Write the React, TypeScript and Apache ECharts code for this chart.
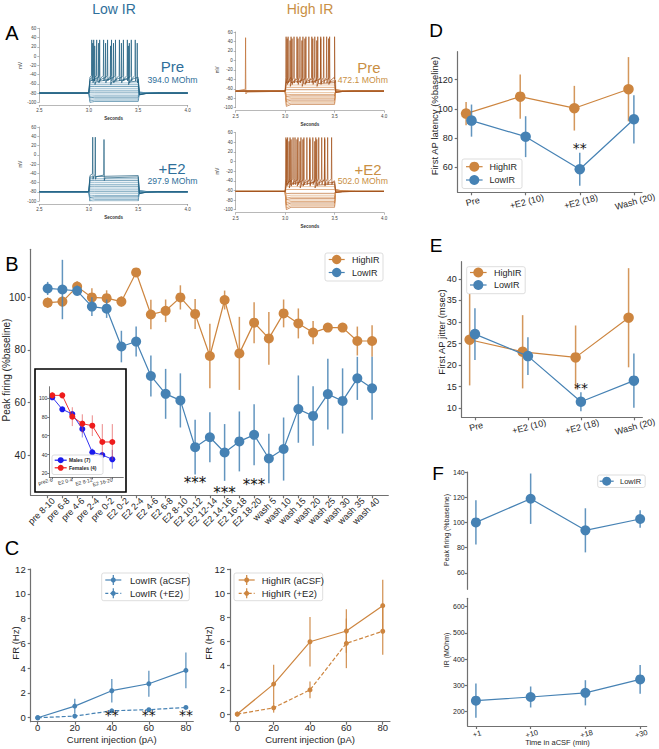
import React, { useEffect, useRef } from 'react';
import * as echarts from 'echarts';

const FONT = "'Liberation Sans', Arial, Helvetica, sans-serif";
const STAR_FONT = "'DejaVu Sans', sans-serif";
const BLUE = '#4682B4';
const ORANGE = '#CD853F';
const LOW_TXT = '#2f6f9a';
const HIGH_TXT = '#c98f44';
const AXIS = '#707070';
const TXT = '#262626';

// ---------------- Panel A (traces) ----------------
const lowPreBase = -80;
const lowPreLevels = [-98, -95, -92, -89, -86, -82, -78, -74, -70, -66, -62, -58, -54, -50, -46];
const lowPreSpikeTrains = [
  [3.03, 3.05, 3.08, 3.11, 3.15, 3.19, 3.23, 3.27, 3.31, 3.35, 3.39, 3.43, 3.47],
  [3.04, 3.1, 3.17, 3.25, 3.33, 3.41, 3.49],
  [3.06, 3.22, 3.4],
];
const lowPrePeaks = [35, 28, 22];

const lowE2Base = -80;
const lowE2Levels = [-100, -97, -94, -91, -88, -84, -80, -76, -72, -68, -64, -60, -56, -52, -48, -45];
const lowE2SpikeTrains = [[3.04, 3.066], [3.154]];
const lowE2Peaks = [38, 33];

const highPreBase = -65;
const highPreLevels = [-93, -90, -87, -84, -81, -78, -75, -72, -68, -62, -57, -52, -47, -43, -40];
const highPreSpikeTrains = [
  [3.01, 3.03, 3.06, 3.09, 3.12, 3.15, 3.18, 3.21, 3.24, 3.27, 3.3, 3.33, 3.36, 3.39, 3.42, 3.45, 3.5],
  [3.02, 3.07, 3.13, 3.2, 3.28, 3.36, 3.44],
  [3.05, 3.17, 3.32],
];
const highPrePeaks = [50, 46, 42];
const highPreSpontTime = [2.6];
const highPreSpontPeak = 48;

const highE2Base = -62;
const highE2Levels = [-95, -92, -89, -86, -83, -80, -77, -74, -70, -66, -58, -52, -47, -43, -40];
const highE2SpikeTrains = [
  [3.008, 3.025, 3.05, 3.08, 3.1, 3.13, 3.16, 3.19, 3.22, 3.25, 3.28, 3.31, 3.34, 3.37, 3.4, 3.43, 3.47],
  [3.015, 3.06, 3.12, 3.18, 3.25, 3.32, 3.4],
  [3.04, 3.15, 3.3],
];
const highE2Peaks = [50, 46, 42];

// ---------------- Panel B ----------------
const bCategories = ['pre 8-10', 'pre 6-8', 'pre 4-6', 'pre 2-4', 'pre 0-2', 'E2 0-2', 'E2 2-4', 'E2 4-6', 'E2 6-8', 'E2 8-10', 'E2 10-12', 'E2 12-14', 'E2 14-16', 'E2 16-18', 'E2 18-20', 'wash 5', 'wash 10', 'wash 15', 'wash 20', 'wash 25', 'wash 30', 'wash 35', 'wash 40'];
const bHighMean = [98.0, 98.4, 104.1, 100.0, 99.7, 98.4, 109.5, 93.5, 94.9, 100.0, 93.7, 77.7, 99.0, 78.7, 90.4, 84.4, 93.9, 90.1, 86.6, 88.5, 88.5, 83.4, 83.4];
const bHighErr = [2, 2, 2, 3.5, 3, 2, 1, 5.6, 4.3, 4.6, 5.7, 12.3, 3.6, 13.9, 7.8, 10, 5.3, 5.7, 4.4, 1, 1, 5.5, 6];
const bLowMean = [103.4, 103.0, 102.5, 96.5, 95.7, 81.3, 83.2, 70.1, 63.3, 60.8, 43.0, 46.8, 41.0, 45.2, 47.7, 38.7, 42.3, 57.5, 54.9, 63.2, 60.6, 69.2, 65.4];
const bLowErr = [2.5, 11.3, 2, 3.6, 3.5, 6, 5.7, 7.8, 9.5, 10.3, 10.4, 9.5, 10.8, 11.4, 11.6, 9.4, 12, 12.8, 11.3, 13.5, 12.4, 8.2, 12];
const bYTicks = [40, 60, 80, 100];
const bStarIdx = [10, 12, 14];
const bStarY = [30.3, 26.7, 29.6];
const bStarText = ['***', '***', '***'];

// inset
const insetLabels = ['pre2-6', '', 'E2 0-4', '', 'E2 8-12', '', 'E2 16-20'];
const insetLabelIdx = [0, 2, 4, 6];
const insetMales = [100.7, 88, 83, 67.1, 42.3, 39.5, 34.9];
const insetMalesErr = [2, 2, 3, 9, 4, 3, 10];
const insetFemales = [102.8, 102.8, 80.2, 72.7, 70.6, 53.3, 53.3];
const insetFemalesErr = [3, 3, 10, 10, 11, 19, 19];
const insetYTicks = [20, 40, 60, 80, 100];

// ---------------- Panel C ----------------
const cCurrents = [0, 20, 40, 60, 80];
const cLowAcsf = [0, 0.94, 2.18, 2.74, 3.82];
const cLowAcsfErr = [0.05, 0.6, 0.95, 1.05, 1.45];
const cLowE2 = [0, 0.13, 0.56, 0.65, 0.83];
const cLowE2Err = [0.03, 0.08, 0.1, 0.08, 0.1];
const cHighAcsf = [0, 2.48, 5.98, 6.87, 8.97];
const cHighAcsfErr = [0.05, 1.6, 2.05, 1.8, 2.15];
const cHighE2 = [0, 0.52, 2.0, 5.85, 6.85];
const cHighE2Err = [0.05, 0.4, 0.7, 2.05, 1.95];
const cYTicks = [0, 2, 4, 6, 8, 10, 12];
const cStarX = [40, 60, 80];
const cStarY = [0.47, 0.47, 0.47];
const cStarText = ['**', '**', '**'];

// ---------------- Panel D ----------------
const dCategories = ['Pre', '+E2 (10)', '+E2 (18)', 'Wash (20)'];
const dHigh = [96.8, 108.4, 100.5, 113.5];
const dHighErr = [8, 15.2, 15.3, 22];
const dLow = [92, 81, 58.7, 92.9];
const dLowErr = [11, 14, 11.3, 16.5];
const dYTicks = [60, 80, 100, 120];
const dStarX = [2];
const dStarY = [74.8];

// ---------------- Panel E ----------------
const eHigh = [25.9, 23.1, 21.8, 31.0];
const eHighErr = [10.6, 8.5, 7.4, 11.5];
const eLow = [27.2, 22.1, 11.5, 16.4];
const eLowErr = [6, 4.4, 2.2, 6.3];
const eYTicks = [10, 15, 20, 25, 30, 35, 40];
const eStarX = [2];
const eStarY = [15.4];

// ---------------- Panel F ----------------
const fCategories = ['+1', '+10', '+18', '+30'];
const fPeak = [100, 118.8, 93.7, 102.7];
const fPeakErr = [17.5, 20, 17.5, 7];
const fIR = [242, 256, 272, 323];
const fIRErr = [65, 40, 48, 55];
const fPeakTicks = [60, 80, 100, 120, 140];
const fIRTicks = [200, 300, 400, 500, 600];

// ---------------- helpers ----------------
const idx = (n: number) => Array.from({ length: n }, (_, i) => i);

function sweepPoints(base: number, level: number, spikes: number[], peak: number): number[][] {
  const pts: number[][] = [];
  const d = level - base;
  const hyper = d < 0;
  const valAt = (t: number) => (t >= 3.0 && t <= 3.5 ? level : base);
  pts.push([2.5, base], [3.0, base]);
  pts.push([3.012, level + (hyper ? d * 0.15 : 0)]);
  pts.push([3.06, level], [3.5, level]);
  pts.push([3.512, base - d * 0.12], [3.58, base - d * 0.03], [3.7, base], [4.0, base]);
  spikes.forEach((t) => {
    const b = valAt(t);
    pts.push([t - 0.003, b + 4], [t, peak], [t + 0.003, b - 8], [t + 0.01, b - 2]);
  });
  pts.sort((a, b) => a[0] - b[0]);
  return pts;
}

function traceSeries(ax: number, base: number, levels: number[], trains: number[][], peaks: number[], colors: string[], extraSpikeIdx = -1, extraSpikes: number[] = [], extraPeak = 0) {
  const n = levels.length;
  return levels.map((lv, i) => {
    const fromTop = n - 1 - i;
    const spikes = fromTop < trains.length ? trains[fromTop] : [];
    const peak = fromTop < peaks.length ? peaks[fromTop] : 0;
    const pts = sweepPoints(base, lv, spikes, peak);
    if (i === extraSpikeIdx) {
      extraSpikes.forEach((t) => {
        pts.push([t - 0.003, base + 4], [t, extraPeak], [t + 0.003, base - 6], [t + 0.015, base - 2]);
      });
      pts.sort((a, b) => a[0] - b[0]);
    }
    const color = fromTop < trains.length ? colors[0] : colors[1 + (i % (colors.length - 1))];
    return {
      type: 'line', xAxisIndex: ax, yAxisIndex: ax, data: pts, symbol: 'none', silent: true,
      lineStyle: { color, width: 0.7 }, z: 2, clip: true,
    };
  });
}

function errSeries(ax: number, data: number[][], color: string, width: number, z = 2, opacity = 0.85) {
  return {
    type: 'custom', xAxisIndex: ax, yAxisIndex: ax, z, silent: true, clip: false,
    data, encode: { x: 0, y: [1, 2] },
    renderItem: (_p: any, api: any) => {
      const a = api.coord([api.value(0), api.value(1)]);
      const b = api.coord([api.value(0), api.value(2)]);
      return { type: 'line', shape: { x1: a[0], y1: a[1], x2: b[0], y2: b[1] }, style: { stroke: color, lineWidth: width, opacity } };
    },
  };
}

function lineSeries(ax: number, data: number[][], color: string, size: number, opts: { dashed?: boolean; width?: number; z?: number } = {}) {
  return {
    type: 'line', xAxisIndex: ax, yAxisIndex: ax, data, symbol: 'circle', symbolSize: size, showSymbol: true,
    clip: false, z: opts.z ?? 3, silent: true,
    lineStyle: { color, width: opts.width ?? 1.2, type: opts.dashed ? [4, 2] : 'solid' },
    itemStyle: { color, opacity: 1 }, emphasis: { disabled: true },
  };
}

function textSeries(ax: number, xs: number[], ys: number[], texts: string[], fontSize: number) {
  return {
    type: 'custom', xAxisIndex: ax, yAxisIndex: ax, silent: true, z: 6, clip: false,
    data: xs.map((x, i) => [x, ys[i]]), encode: { x: 0, y: 1 },
    renderItem: (p: any, api: any) => {
      const c = api.coord([api.value(0), api.value(1)]);
      return {
        type: 'text', x: c[0], y: c[1] + 0.19 * fontSize,
        style: { text: texts[p.dataIndex], fontSize, fontFamily: STAR_FONT, fill: '#111', align: 'center', verticalAlign: 'middle', textAlign: 'center', textVerticalAlign: 'middle' },
      };
    },
  };
}

const mk = (xs: number[], ys: number[], dx = 0) => xs.map((x, i) => [x + dx, ys[i]]);
const mkErr = (xs: number[], ys: number[], es: number[], dx = 0) => xs.map((x, i) => [x + dx, ys[i] - es[i], ys[i] + es[i]]);

function txt(x: number, y: number, text: string, fontSize: number, fill = TXT, extra: any = {}) {
  const { rotation, align, weight, family, z } = extra;
  return {
    type: 'text', x, y, rotation: rotation ?? 0, z: z ?? 20, silent: true,
    style: {
      text, fontSize, fill, fontFamily: family ?? FONT, fontWeight: weight ?? 'normal',
      align: align ?? 'center', verticalAlign: 'middle', textAlign: align ?? 'center', textVerticalAlign: 'middle',
    },
  };
}

function legendBox(x: number, y: number, w: number, h: number) {
  return { type: 'rect', z: 30, silent: true, shape: { x, y, width: w, height: h, r: 2 }, style: { fill: 'rgba(255,255,255,0.9)', stroke: '#d4d4d4', lineWidth: 0.8 } };
}

function legendEntry(cx: number, cy: number, half: number, r: number, color: string, label: string, textX: number, fs: number, opts: { dashed?: boolean; err?: number; weight?: string } = {}) {
  const els: any[] = [
    { type: 'line', z: 31, silent: true, shape: { x1: cx - half, y1: cy, x2: cx + half, y2: cy }, style: { stroke: color, lineWidth: 1.2, lineDash: opts.dashed ? [3, 2] : null } },
  ];
  if (opts.err) {
    els.push({ type: 'line', z: 31, silent: true, shape: { x1: cx, y1: cy - opts.err, x2: cx, y2: cy + opts.err }, style: { stroke: color, lineWidth: 1.2 } });
  }
  els.push({ type: 'circle', z: 32, silent: true, shape: { cx, cy, r }, style: { fill: color } });
  els.push({
    type: 'text', z: 33, silent: true, x: textX, y: cy,
    style: { text: label, fontSize: fs, fill: TXT, fontFamily: FONT, fontWeight: opts.weight ?? 'normal', align: 'left', verticalAlign: 'middle', textAlign: 'left', textVerticalAlign: 'middle' },
  });
  return els;
}

// ---------------- option ----------------
function buildOption() {
  const grids = [
    { left: 39.3, top: 28.3, width: 148.4, height: 74 },
    { left: 39.3, top: 127, width: 148.4, height: 74 },
    { left: 235.7, top: 32, width: 148.3, height: 75.7 },
    { left: 235.7, top: 132.7, width: 148.3, height: 77 },
    { left: 30.7, top: 249.3, width: 357.6, height: 246 },
    { left: 49.3, top: 386.7, width: 74, height: 90.6 },
    { left: 30.7, top: 569, width: 162.6, height: 152.7 },
    { left: 230, top: 569, width: 160, height: 152.7 },
    { left: 457.7, top: 51.7, width: 187.3, height: 140.6 },
    { left: 461.7, top: 261.7, width: 181, height: 155.6 },
    { left: 467.7, top: 472, width: 179, height: 117.3 },
    { left: 467.7, top: 598.3, width: 179, height: 127.7 },
  ];

  const line = (w = 1.2, c = AXIS) => ({ show: true, onZero: false, lineStyle: { color: c, width: w } });
  const tick = (vals: number[] | null, len = 3, w = 1.2, c = AXIS) => ({ show: true, length: len, lineStyle: { color: c, width: w }, ...(vals ? { customValues: vals } : {}) });
  const lab = (vals: number[] | null, fs: number, extra: any = {}) => ({ show: true, fontSize: fs, color: TXT, fontFamily: FONT, hideOverlap: false, ...(vals ? { customValues: vals } : {}), ...extra });

  const traceX = (g: number) => ({
    type: 'value', gridIndex: g, min: 2.5, max: 4.0, interval: 0.5, offset: 3,
    axisLine: line(0.6, '#888'), axisTick: tick(null, 2, 0.6, '#888'),
    axisLabel: lab(null, 4.5, { margin: 3, color: '#444', formatter: (v: number) => v.toFixed(1) }),
    splitLine: { show: false },
    name: 'Seconds', nameLocation: 'middle', nameGap: 11,
    nameTextStyle: { fontSize: 4.5, color: '#333', fontWeight: 'bold', fontFamily: FONT },
  });
  const traceY = (g: number) => ({
    type: 'value', gridIndex: g, min: -100, max: 60, interval: 20,
    axisLine: line(0.6, '#888'), axisTick: tick(null, 2, 0.6, '#888'),
    axisLabel: lab(null, 4.5, { margin: 3, color: '#444' }),
    splitLine: { show: false },
    name: 'mV', nameLocation: 'middle', nameGap: 14, nameRotate: 90,
    nameTextStyle: { fontSize: 4.5, color: '#333', fontFamily: FONT },
  });

  const bIdx = idx(bCategories.length);
  const catIdx4 = [0, 1, 2, 3];

  const xAxis: any[] = [
    traceX(0), traceX(1), traceX(2), traceX(3),
    { type: 'value', gridIndex: 4, min: -1.15, max: 23.1, axisLine: line(), axisTick: tick(bIdx), axisLabel: { show: false }, splitLine: { show: false } },
    {
      type: 'value', gridIndex: 5, z: 10, min: -0.3, max: 7.1, axisLine: line(0.8, '#555'), axisTick: tick(insetLabelIdx, 2, 0.8, '#555'),
      axisLabel: lab(insetLabelIdx, 5, { rotate: 15, margin: 2, formatter: (v: number) => insetLabels[Math.round(v)] ?? '' }), splitLine: { show: false },
    },
    { type: 'value', gridIndex: 6, min: -3.8, max: 84, axisLine: line(), axisTick: tick(cCurrents), axisLabel: lab(cCurrents, 9.5, { margin: 0.5 }), splitLine: { show: false } },
    { type: 'value', gridIndex: 7, min: -4, max: 84, axisLine: line(), axisTick: tick(cCurrents), axisLabel: lab(cCurrents, 9.5, { margin: 0.5 }), splitLine: { show: false } },
    {
      type: 'value', gridIndex: 8, min: -0.255, max: 3.15, axisLine: line(), axisTick: tick(catIdx4),
      axisLabel: lab(catIdx4, 9, { rotate: 15, align: 'center', verticalAlign: 'top', margin: 5, formatter: (v: number) => dCategories[Math.round(v)] ?? '' }), splitLine: { show: false },
    },
    {
      type: 'value', gridIndex: 9, min: -0.25, max: 3.16, axisLine: line(), axisTick: tick(catIdx4),
      axisLabel: lab(catIdx4, 9, { rotate: 15, align: 'center', verticalAlign: 'top', margin: 5, formatter: (v: number) => dCategories[Math.round(v)] ?? '' }), splitLine: { show: false },
    },
    { type: 'value', gridIndex: 10, min: -0.15, max: 3.12, axisLine: { show: false, onZero: false }, axisTick: { show: false }, axisLabel: { show: false }, splitLine: { show: false } },
    {
      type: 'value', gridIndex: 11, min: -0.15, max: 3.12, axisLine: line(), axisTick: tick(catIdx4),
      axisLabel: lab(catIdx4, 7.5, { rotate: 15, align: 'center', verticalAlign: 'top', margin: 4, formatter: (v: number) => fCategories[Math.round(v)] ?? '' }), splitLine: { show: false },
    },
    // label-only axis for panel B (labels sit just right of each tick, as in the reference)
    {
      type: 'value', gridIndex: 4, position: 'bottom', min: -1.15 - 0.39, max: 23.1 - 0.39,
      axisLine: { show: false, onZero: false }, axisTick: { show: false },
      axisLabel: lab(bIdx, 9, { rotate: 45, margin: 4, formatter: (v: number) => bCategories[Math.round(v)] ?? '' }), splitLine: { show: false },
    },
  ];

  const yAxis: any[] = [
    traceY(0), traceY(1), traceY(2), traceY(3),
    { type: 'value', gridIndex: 4, min: 24.7, max: 118.3, axisLine: line(), axisTick: tick(bYTicks), axisLabel: lab(bYTicks, 10, { margin: 5 }), splitLine: { show: false } },
    { type: 'value', gridIndex: 5, z: 10, min: 15.8, max: 112, axisLine: line(0.8, '#555'), axisTick: tick(insetYTicks, 2, 0.8, '#555'), axisLabel: lab(insetYTicks, 5, { margin: 2 }), splitLine: { show: false } },
    { type: 'value', gridIndex: 6, min: -0.32, max: 12, axisLine: line(), axisTick: tick(cYTicks), axisLabel: lab(cYTicks, 9.5, { margin: 5 }), splitLine: { show: false } },
    { type: 'value', gridIndex: 7, min: -0.63, max: 12, axisLine: line(), axisTick: tick(cYTicks), axisLabel: lab(cYTicks, 9.5, { margin: 5 }), splitLine: { show: false } },
    { type: 'value', gridIndex: 8, min: 42.9, max: 139.2, axisLine: line(), axisTick: tick(dYTicks), axisLabel: lab(dYTicks, 9, { margin: 5 }), splitLine: { show: false } },
    { type: 'value', gridIndex: 9, min: 7.9, max: 44, axisLine: line(), axisTick: tick(eYTicks), axisLabel: lab(eYTicks, 9, { margin: 5 }), splitLine: { show: false } },
    { type: 'value', gridIndex: 10, min: 46.9, max: 140, axisLine: line(), axisTick: tick(fPeakTicks), axisLabel: lab(fPeakTicks, 7, { margin: 3 }), splitLine: { show: false } },
    { type: 'value', gridIndex: 11, min: 145.5, max: 632, axisLine: line(), axisTick: tick(fIRTicks), axisLabel: lab(fIRTicks, 7, { margin: 3 }), splitLine: { show: false } },
  ];

  const lowColors = ['#1d5d7e', '#2f7396', '#5a93b3', '#86b1c9'];
  const highColors = ['#a4531c', '#bf6f32', '#d48f56', '#e3b185'];

  const series: any[] = [
    ...traceSeries(0, lowPreBase, lowPreLevels, lowPreSpikeTrains, lowPrePeaks, lowColors),
    ...traceSeries(1, lowE2Base, lowE2Levels, lowE2SpikeTrains, lowE2Peaks, lowColors),
    ...traceSeries(2, highPreBase, highPreLevels, highPreSpikeTrains, highPrePeaks, highColors, 9, highPreSpontTime, highPreSpontPeak),
    ...traceSeries(3, highE2Base, highE2Levels, highE2SpikeTrains, highE2Peaks, highColors),

    // B
    errSeries(4, mkErr(bIdx, bHighMean, bHighErr), ORANGE, 1.5, 2),
    lineSeries(4, mk(bIdx, bHighMean), ORANGE, 10, { z: 3 }),
    errSeries(4, mkErr(bIdx, bLowMean, bLowErr), BLUE, 1.5, 4),
    lineSeries(4, mk(bIdx, bLowMean), BLUE, 10, { z: 5 }),
    textSeries(4, bStarIdx, bStarY, bStarText, 15),

    // inset
    errSeries(5, mkErr(idx(7), insetMales, insetMalesErr), '#3a3ae0', 1, 2, 0.6),
    lineSeries(5, mk(idx(7), insetMales), '#1a1aee', 6, { width: 0.9, z: 3 }),
    errSeries(5, mkErr(idx(7), insetFemales, insetFemalesErr), '#e03a3a', 1, 4, 0.6),
    lineSeries(5, mk(idx(7), insetFemales), '#ee1c1c', 6, { width: 0.9, z: 5 }),

    // C
    errSeries(6, mkErr(cCurrents, cLowAcsf, cLowAcsfErr), BLUE, 1.3, 2),
    lineSeries(6, mk(cCurrents, cLowAcsf), BLUE, 5, { z: 3 }),
    errSeries(6, mkErr(cCurrents, cLowE2, cLowE2Err), BLUE, 1.3, 2),
    lineSeries(6, mk(cCurrents, cLowE2), BLUE, 5, { z: 3, dashed: true }),
    textSeries(6, cStarX, cStarY, cStarText, 14),
    errSeries(7, mkErr(cCurrents, cHighAcsf, cHighAcsfErr), ORANGE, 1.3, 2),
    lineSeries(7, mk(cCurrents, cHighAcsf), ORANGE, 5, { z: 3 }),
    errSeries(7, mkErr(cCurrents, cHighE2, cHighE2Err), ORANGE, 1.3, 2),
    lineSeries(7, mk(cCurrents, cHighE2), ORANGE, 5, { z: 3, dashed: true }),

    // D
    errSeries(8, mkErr(catIdx4, dHigh, dHighErr, -0.1), ORANGE, 1.5, 2),
    lineSeries(8, mk(catIdx4, dHigh, -0.1), ORANGE, 10.5, { z: 3 }),
    errSeries(8, mkErr(catIdx4, dLow, dLowErr), BLUE, 1.5, 4),
    lineSeries(8, mk(catIdx4, dLow), BLUE, 10.5, { z: 5 }),
    textSeries(8, dStarX, dStarY, ['**'], 14),

    // E
    errSeries(9, mkErr(catIdx4, eHigh, eHighErr, -0.1), ORANGE, 1.5, 2),
    lineSeries(9, mk(catIdx4, eHigh, -0.1), ORANGE, 10.5, { z: 3 }),
    errSeries(9, mkErr(catIdx4, eLow, eLowErr), BLUE, 1.5, 4),
    lineSeries(9, mk(catIdx4, eLow), BLUE, 10.5, { z: 5 }),
    textSeries(9, eStarX, eStarY, ['**'], 14),

    // F
    errSeries(10, mkErr(catIdx4, fPeak, fPeakErr), BLUE, 1.5, 2),
    lineSeries(10, mk(catIdx4, fPeak), BLUE, 10, { z: 3 }),
    errSeries(11, mkErr(catIdx4, fIR, fIRErr), BLUE, 1.5, 2),
    lineSeries(11, mk(catIdx4, fIR), BLUE, 10, { z: 3 }),
  ];

  const elements: any[] = [
    // panel letters
    txt(12, 33, 'A', 20, '#000'),
    txt(12, 264, 'B', 20, '#000'),
    txt(12, 548, 'C', 20, '#000'),
    txt(436, 30, 'D', 19, '#000'),
    txt(436, 245, 'E', 19, '#000'),
    txt(438, 473, 'F', 19, '#000'),
    // A titles & annotations
    txt(114, 9, 'Low IR', 14, LOW_TXT),
    txt(310, 9, 'High IR', 14, HIGH_TXT),
    txt(172.5, 66, 'Pre', 15, LOW_TXT),
    txt(172.5, 79.5, '394.0 MOhm', 8.7, LOW_TXT),
    txt(172, 168.5, '+E2', 15, LOW_TXT),
    txt(172.5, 180.7, '297.9 MOhm', 8.7, LOW_TXT),
    txt(369, 67, 'Pre', 15, HIGH_TXT),
    txt(362.8, 80, '472.1 MOhm', 8.7, HIGH_TXT),
    txt(368, 169, '+E2', 15, HIGH_TXT),
    txt(362.8, 181.3, '502.0 MOhm', 8.7, HIGH_TXT),
    // axis titles
    txt(6, 370, 'Peak firing (%baseline)', 10, TXT, { rotation: Math.PI / 2 }),
    txt(15, 643, 'FR (Hz)', 9.5, TXT, { rotation: Math.PI / 2 }),
    txt(208, 643, 'FR (Hz)', 9.5, TXT, { rotation: Math.PI / 2 }),
    txt(111.7, 739, 'Current injection (pA)', 9.5),
    txt(310, 739, 'Current injection (pA)', 9.5),
    txt(434, 116, 'First AP latency (%baseline)', 9.5, TXT, { rotation: Math.PI / 2 }),
    txt(441, 332, 'First AP jitter (msec)', 9.5, TXT, { rotation: Math.PI / 2 }),
    txt(446, 530, 'Peak firing (%baseline)', 7, TXT, { rotation: Math.PI / 2 }),
    txt(446, 650, 'IR (MOhm)', 7, TXT, { rotation: Math.PI / 2 }),
    txt(557.5, 742.5, 'Time in aCSF (min)', 7.5),
    // inset frame
    { type: 'rect', z: 1, silent: true, shape: { x: 35, y: 369, width: 91, height: 123 }, style: { fill: '#fff', stroke: '#000', lineWidth: 1.6 } },
    // legends
    legendBox(325, 253, 58, 28),
    ...legendEntry(336.7, 259.5, 8, 4.7, ORANGE, 'HighIR', 352, 9),
    ...legendEntry(336.7, 272.5, 8, 4.7, BLUE, 'LowIR', 352, 9),
    legendBox(52, 455, 51, 19.5),
    ...legendEntry(60.7, 460.2, 6, 3, '#1a1aee', 'Males (7)', 69, 5, { weight: 'bold' }),
    ...legendEntry(60.7, 467.8, 6, 3, '#ee1c1c', 'Females (4)', 69, 5, { weight: 'bold' }),
    legendBox(101.7, 573, 87.6, 27.7),
    ...legendEntry(113.3, 580, 8, 2.5, BLUE, 'LowIR (aCSF)', 130, 9.5, { err: 5 }),
    ...legendEntry(113.3, 593.3, 8, 2.5, BLUE, 'LowIR (+E2)', 130, 9.5, { err: 5, dashed: true }),
    legendBox(234, 573, 88.7, 27.7),
    ...legendEntry(246.7, 580, 8, 2.5, ORANGE, 'HighIR (aCSF)', 261.7, 9.5, { err: 5 }),
    ...legendEntry(246.7, 593.3, 8, 2.5, ORANGE, 'HighIR (+E2)', 261.7, 9.5, { err: 5, dashed: true }),
    legendBox(462, 159, 60, 29.5),
    ...legendEntry(474.3, 166.7, 8.3, 5, ORANGE, 'HighIR', 489.5, 9),
    ...legendEntry(474.3, 180, 8.3, 5, BLUE, 'LowIR', 489.5, 9),
    legendBox(466.7, 266.7, 58.5, 27),
    ...legendEntry(478.3, 272.5, 8.3, 5, ORANGE, 'HighIR', 494, 9),
    ...legendEntry(478.3, 285, 8.3, 5, BLUE, 'LowIR', 494, 9),
    legendBox(597.7, 475, 47.5, 12.5),
    ...legendEntry(606.7, 481.2, 7, 4.5, BLUE, 'LowIR', 620, 7.5),
  ];

  return {
    animation: false,
    backgroundColor: '#fff',
    textStyle: { fontFamily: FONT },
    grid: grids.map((g) => ({ ...g, containLabel: false })),
    xAxis,
    yAxis,
    series,
    graphic: { elements },
  };
}

export default function App() {
  const ref = useRef<HTMLDivElement>(null);
  useEffect(() => {
    if (!ref.current) return;
    const chart = echarts.init(ref.current, undefined, { renderer: 'svg' });
    chart.setOption(buildOption() as any);
    return () => chart.dispose();
  }, []);
  return <div ref={ref} style={{ position: 'absolute', left: 0, top: 0, width: 659, height: 749, background: '#fff' }} />;
}
